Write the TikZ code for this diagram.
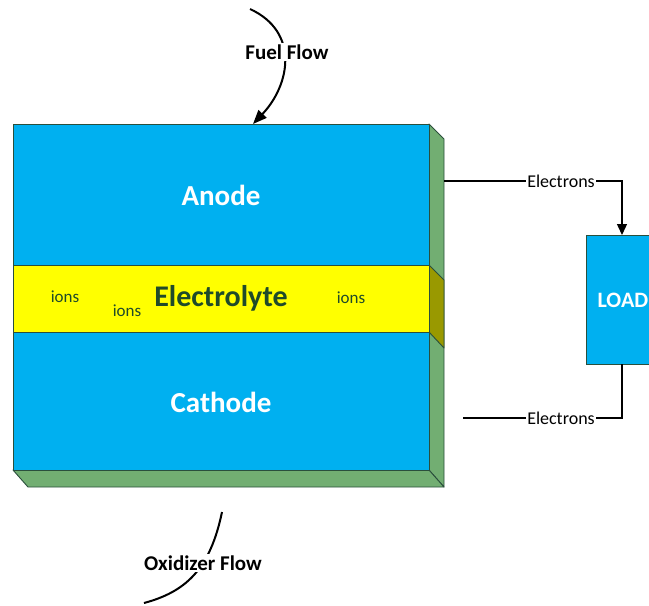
\documentclass[tikz,border=0pt]{standalone}
\usepackage{fontspec}
\setmainfont{Carlito}
\usetikzlibrary{arrows.meta}
\definecolor{cellblue}{HTML}{00B0F0}
\definecolor{cellyellow}{HTML}{FFFF00}
\definecolor{sidegreen}{HTML}{72AE72}
\definecolor{sideolive}{HTML}{999900}
\definecolor{edgecol}{HTML}{2A4F3C}
\definecolor{txtgreen}{HTML}{1F4A2A}
\tikzset{
  face/.style={draw=edgecol, line width=0.9pt, line join=round},
  bigtxt/.style={font=\fontsize{29}{32}\selectfont\bfseries, text=white},
  iontxt/.style={font=\fontsize{17}{19}\selectfont, text=txtgreen},
  wire/.style={draw=black, line width=1.4pt},
  wirelbl/.style={font=\fontsize{18}{20}\selectfont, fill=white, inner sep=1pt},
  flowlbl/.style={font=\fontsize{21}{23}\selectfont\bfseries, fill=white, inner sep=2pt},
  flow/.style={draw=black, line width=2pt}
}
\begin{document}
\begin{tikzpicture}[x=1pt,y=-1pt]
\useasboundingbox (0,0) rectangle (649,606);
\clip (0,0) rectangle (649,606);
% side and bottom faces
\path[face, fill=sidegreen] (429,124) -- (444,139) -- (444,487) -- (429,470) -- cycle;
\path[face, fill=sideolive] (429,265) -- (444,280) -- (444,348) -- (429,332) -- cycle;
\path[face, fill=sidegreen] (13,470) -- (429,470) -- (444,487) -- (28,487) -- cycle;
% front layers
\node[face, fill=cellblue, minimum width=416pt, minimum height=141pt, inner sep=0pt, anchor=north west] (anode) at (13,124) {};
\node[face, fill=cellyellow, minimum width=416pt, minimum height=67pt, inner sep=0pt, anchor=north west] (electrolyte) at (13,265) {};
\node[face, fill=cellblue, minimum width=416pt, minimum height=138pt, inner sep=0pt, anchor=north west] (cathode) at (13,332) {};
\node[bigtxt] (anodelbl) at (221,195) {Anode};
\node[bigtxt, font=\fontsize{30}{32}\selectfont\bfseries, text=txtgreen] (electrolbl) at (221,298) {Electrolyte};
\node[bigtxt] (cathodelbl) at (221,402) {Cathode};
\node[iontxt] (ion1) at (65,297) {ions};
\node[iontxt] (ion2) at (127,311) {ions};
\node[iontxt] (ion3) at (351,298) {ions};
% load
\node[draw=edgecol, line width=0.9pt, fill=cellblue, minimum width=80pt, minimum height=129pt, inner sep=0pt, anchor=north west] (load) at (586,235) {};
\node[font=\fontsize{22}{24}\selectfont\bfseries, text=white, anchor=west] (loadlbl) at (594,300) {LOAD};
% wires
\coordinate (wA) at (444,181);
\coordinate (wAc) at (622,181);
\coordinate (wC) at (463,418);
\coordinate (wCc) at (622,418);
\coordinate (ldT) at (622,235);
\coordinate (ldB) at (622,364);
\draw[wire, -{Triangle[length=11pt,width=10pt]}] (wA) -- (wAc) -- (ldT);
\draw[wire] (wC) -- (wCc) -- (ldB);
\node[wirelbl] (e1) at (561,181) {Electrons};
\node[wirelbl] (e2) at (561,418) {Electrons};
% fuel flow
\coordinate (f0) at (250,9);
\coordinate (f1) at (253,124);
\draw[flow, -{Triangle[length=14pt,width=11pt]}] (f0) .. controls (300,32) and (290,85) .. (f1);
\node[flowlbl] (fuel) at (287,52) {Fuel Flow};
% oxidizer flow
\coordinate (o0) at (222,512);
\coordinate (o1) at (144,603);
\draw[flow] (o0) .. controls (210,570) and (185,592) .. (o1);
\node[flowlbl] (oxi) at (203,563) {Oxidizer Flow};
\end{tikzpicture}
\end{document}
